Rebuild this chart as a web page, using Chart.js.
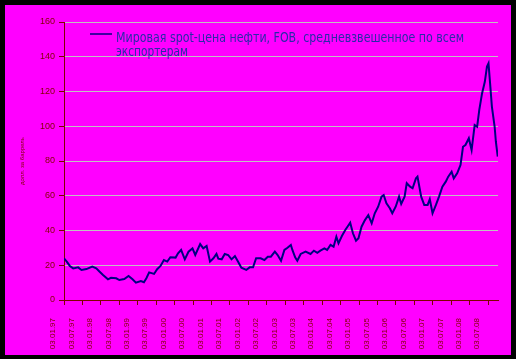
<!DOCTYPE html>
<html>
<head>
<meta charset="utf-8">
<script src="https://cdn.jsdelivr.net/npm/chart.js@4.4.1/dist/chart.umd.min.js"></script>
<style>
  html, body { margin: 0; padding: 0; background: #000; }
  #wrap { position: absolute; left: 5px; top: 5px; width: 506px; height: 350px; background: #ff00ff; }
</style>
</head>
<body>
<div id="wrap"><canvas id="oil"></canvas></div>
<script>
// months since 03.01.1997
const months = [0, 0.9, 1.9, 3, 4.6, 5.7, 7.3, 9.2, 10.5, 11.6, 12.7, 14.3, 15.3, 17, 18, 19.6, 21, 22.3, 23.4, 25,
  26, 26.8, 27.7, 29.3, 30.3, 31.4, 32.5, 33.6, 34.6, 36.3, 37.1, 38.1, 39.3, 40.5, 41.8, 42.7, 44.3, 45.3, 46.4, 47.5,
  48.6, 49.6, 50.2, 51.3, 52.3, 53.4, 54.5, 55.6, 56.6, 57.7, 59.3, 60.4, 61.5, 62.5, 64, 65.2, 66.3, 67.3, 68.6, 69.5,
  70.6, 71.7, 72.7, 73.8, 74.3, 75.2, 75.9, 77, 78.6, 80.2, 81.3, 82.4, 83.4, 84.7, 85.6, 86.7, 87.7, 88.6, 89.3, 90.4,
  91.5, 92.6, 93.1, 94, 95, 95.8, 96.8, 97.9, 99, 100.1, 101.1, 102.2, 103.3, 104, 104.9, 106, 106.8, 107.9, 109, 109.7,
  110.8, 111.5, 112.6, 113.4, 114.5, 115, 116.2, 117.2, 118.3, 119, 119.9, 121, 122, 123.1, 124.2, 125, 126.1, 126.8, 127.9, 129,
  129.8, 130.6, 131.7, 132.6, 133.6, 134.4, 135.1, 136, 136.9, 137.6, 138.1, 138.7, 139.2, 140.1, 140.5, 141.1];
const prices = [24.0, 22.1, 19.6, 18.2, 18.8, 17.3, 17.8, 19.2, 18.2, 16.3, 14.4, 11.9, 12.8, 12.5, 11.5, 12.1, 13.8, 11.9, 10.0, 10.9,
  10.2, 12.5, 15.9, 15.0, 17.7, 19.6, 23.0, 22.1, 24.6, 24.4, 26.9, 28.8, 23.4, 27.8, 29.7, 25.9, 32.2, 29.7, 31.1, 22.1,
  24.0, 26.5, 23.8, 23.4, 26.5, 25.9, 23.4, 25.3, 22.1, 18.6, 17.3, 18.8, 18.8, 24.0, 24.0, 23.0, 24.9, 24.9, 27.8, 25.9,
  22.6, 28.8, 30.1, 31.7, 28.8, 24.6, 22.6, 26.5, 27.8, 26.5, 28.4, 27.2, 28.4, 29.7, 28.8, 31.7, 30.7, 36.4, 32.6, 36.8,
  40.3, 43.2, 44.5, 38.4, 34.1, 35.5, 42.2, 46.0, 48.9, 44.1, 49.9, 53.7, 59.5, 60.4, 55.6, 52.8, 49.9, 53.7, 59.5, 55.3,
  59.5, 67.2, 65.2, 64.3, 70.0, 71.0, 59.5, 54.7, 54.7, 58.0, 49.9, 54.7, 59.5, 65.2, 68.1, 71.0, 73.8, 70.0, 72.9, 77.7,
  88.2, 89.2, 93.1, 86.3, 100.7, 99.7, 109.4, 118.9, 125.6, 134.3, 136.2, 122.8, 111.3, 99.7, 91.1, 82.5];
const dateLabels = ['03.01.97', '03.07.97', '03.01.98', '03.07.98', '03.01.99', '03.07.99', '03.01.00', '03.07.00',
  '03.01.01', '03.07.01', '03.01.02', '03.07.02', '03.01.03', '03.07.03', '03.01.04', '03.07.04', '03.01.05', '03.07.05',
  '03.01.06', '03.07.06', '03.01.07', '03.07.07', '03.01.08', '03.07.08'];
const seriesName = ['Мировая spot-цена нефти, FOB, средневзвешенное по всем', 'экспортерам'];
const yTitle = 'долл. за баррель';

const dark = '#800000';

// legend drawn by hand so the label can wrap onto two lines
const wrapLegend = {
  id: 'wrapLegend',
  afterDraw(chart) {
    const ctx = chart.ctx;
    ctx.save();
    ctx.strokeStyle = '#000080';
    ctx.lineWidth = 1.5;
    ctx.beginPath();
    ctx.moveTo(85, 29);
    ctx.lineTo(107, 29);
    ctx.stroke();
    ctx.fillStyle = '#2a2aa8';
    ctx.font = '14px "Liberation Sans Narrow", "DejaVu Sans Condensed", sans-serif';
    ctx.textBaseline = 'alphabetic';
    seriesName.forEach((t, i) => {
      const w = ctx.measureText(t).width;
      const target = i === 0 ? 348 : 72;
      ctx.save();
      ctx.translate(111, 36.5 + i * 14.5);
      ctx.scale(target / w, 1);
      ctx.fillText(t, 0, 0);
      ctx.restore();
    });
    ctx.restore();
  }
};

new Chart(document.getElementById('oil'), {
  type: 'line',
  data: {
    datasets: [{
      label: seriesName.join(' '),
      data: months.map((m, i) => ({ x: m, y: prices[i] })),
      borderColor: '#000080',
      borderWidth: 2,
      pointRadius: 0,
      tension: 0,
      fill: false
    }]
  },
  options: {
    responsive: true,
    maintainAspectRatio: false,
    animation: false,
    layout: { padding: { top: 17, right: 9, left: 0, bottom: 0 } },
    plugins: { legend: { display: false }, tooltip: { enabled: false } },
    scales: {
      x: {
        type: 'linear',
        min: 0,
        max: 141.2,
        afterFit(s) { s.height = 55; },
        grid: { drawOnChartArea: false, tickColor: dark, tickLength: 5 },
        border: { color: dark, width: 1 },
        ticks: {
          stepSize: 6,
          includeBounds: false,
          autoSkip: false,
          minRotation: 90,
          maxRotation: 90,
          padding: 13,
          labelOffset: -11,
          color: dark,
          font: { family: 'Liberation Sans', size: 8 },
          callback: (v) => dateLabels[Math.round(v / 6)] || ''
        }
      },
      y: {
        min: 0,
        max: 160,
        afterFit(s) { s.width = 59; },
        grid: { color: '#c0c0c0', tickColor: dark, tickLength: 5 },
        border: { color: dark, width: 1 },
        ticks: {
          stepSize: 20,
          padding: 4,
          color: dark,
          font: { family: 'Liberation Sans', size: 9 }
        },
        title: {
          display: true,
          text: yTitle,
          color: dark,
          font: { family: 'Liberation Sans', size: 6 },
          padding: { top: 14, bottom: 0 }
        }
      }
    }
  },
  plugins: [wrapLegend]
});
</script>
</body>
</html>
